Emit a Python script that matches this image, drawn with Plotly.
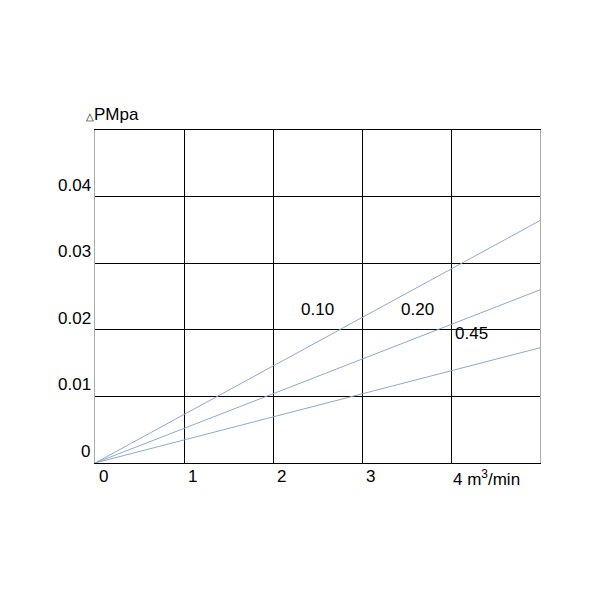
import plotly.graph_objects as go

x_vals = [0, 5]
series = {"0.10": [0, 0.0364], "0.20": [0, 0.026], "0.45": [0, 0.0173]}
x_ticks = ["0", "1", "2", "3", "4 m<sup>3</sup>/min"]
y_ticks = ["0", "0.01", "0.02", "0.03", "0.04"]
label_pos = {"0.10": (2.5, 0.0213), "0.20": (3.62, 0.0213), "0.45": (4.23, 0.0177)}

fig = go.Figure()
for name, ys in series.items():
    fig.add_trace(go.Scatter(x=x_vals, y=ys, mode="lines", line=dict(color="#8fa9cc", width=1), showlegend=False))
    lx, ly = label_pos[name]
    fig.add_annotation(x=lx, y=ly, text=name, showarrow=False, xanchor="center", yanchor="bottom", font=dict(size=17, color="black"))

for i, t in enumerate(x_ticks):
    fig.add_annotation(x=i, y=0, text=t, showarrow=False, xanchor="left", yanchor="top", xshift=2 if i < 4 else 0, yshift=-2, font=dict(size=17, color="black"))
for i, t in enumerate(y_ticks):
    fig.add_annotation(x=0, y=i * 0.01, text=t, showarrow=False, xanchor="right", yanchor="bottom", xshift=-2 if i else -3, font=dict(size=17, color="black"))
fig.add_annotation(x=0, y=0.05, text="<span style='font-size:10px'>△</span>PMpa", showarrow=False, xanchor="right", yanchor="bottom", xshift=46, yshift=4, font=dict(size=17, color="black"))

fig.update_xaxes(range=[0, 5], dtick=1, showgrid=True, gridcolor="black", gridwidth=1, showticklabels=False, zeroline=False, showline=True, linecolor="black", mirror=True)
fig.update_yaxes(range=[0, 0.05], dtick=0.01, showgrid=True, gridcolor="black", gridwidth=1, showticklabels=False, zeroline=False, showline=True, linecolor="#aaa", mirror=True)
fig.update_layout(width=600, height=600, plot_bgcolor="white", paper_bgcolor="white",
                  margin=dict(l=87, r=68, t=122, b=145), font=dict(family="Arial, Liberation Sans"))
fig.write_html("out.html")
